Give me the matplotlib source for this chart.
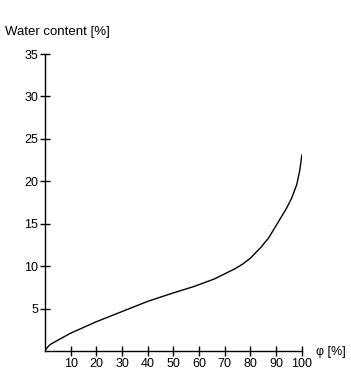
import matplotlib
matplotlib.use('Agg')
import matplotlib.pyplot as plt

phi = [0, 1, 2, 4, 10, 20, 30, 40, 50, 58, 66, 74, 77, 80, 84, 87, 90, 92, 94, 96, 98, 99.2, 100]
water = [0, 0.45, 0.75, 1.1, 2.1, 3.45, 4.65, 5.85, 6.85, 7.6, 8.5, 9.7, 10.25, 10.95,
         12.2, 13.3, 14.8, 15.8, 16.8, 18.0, 19.6, 21.3, 23.1]
xticks = [10, 20, 30, 40, 50, 60, 70, 80, 90, 100]
yticks = [5, 10, 15, 20, 25, 30, 35]

plt.rcParams['font.family'] = ['Liberation Sans', 'DejaVu Sans']
plt.rcParams['font.size'] = 9

fig = plt.figure(figsize=(3.51, 3.89), dpi=100)
ax = fig.add_axes([0.128, 0.0977, 0.732, 0.7633])

ax.plot(phi, water, color='black', lw=1.0)

ax.set_xlim(0, 100)
ax.set_ylim(0, 35)
ax.set_xticks(xticks)
ax.set_yticks(yticks)
for s in ['top', 'right']:
    ax.spines[s].set_visible(False)
for s in ['left', 'bottom']:
    ax.spines[s].set_linewidth(1.0)
ax.tick_params(direction='inout', length=7, width=1, pad=1.5, labelsize=9)

fig.text(5 / 351, 1 - 32 / 389, 'Water content [%]', ha='left', va='center', fontsize=9.5)
fig.text(316 / 351, 1 - 352 / 389, 'φ [%]', ha='left', va='center', fontsize=9)

fig.savefig('out.png', dpi=100)
